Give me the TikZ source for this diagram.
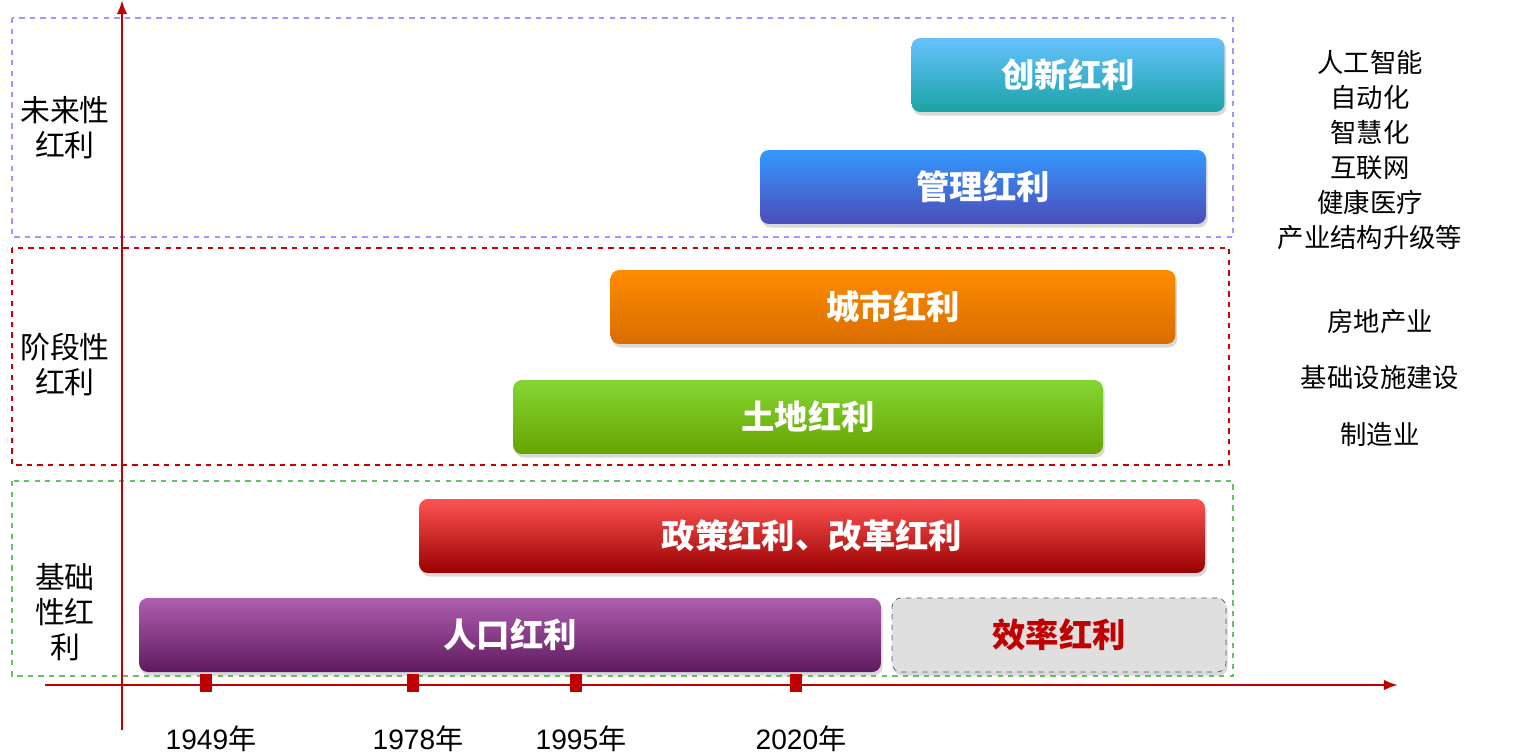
\documentclass[tikz,border=0pt]{standalone}
\usepackage{fontspec}
\setmainfont{Liberation Sans}
\newfontfamily\cjk{Noto Sans CJK SC}
\usetikzlibrary{positioning,arrows.meta,shadows}
\definecolor{axisred}{HTML}{C00000}
\definecolor{darkred}{HTML}{C00000}

\begin{document}
\begin{tikzpicture}[x=0.02cm,y=-0.02cm,
bar/.style={rounded corners=5pt, minimum height=1.48cm, text=white,
  font=\cjk\fontsize{19}{21}\selectfont\bfseries, drop shadow={opacity=0.3,shadow xshift=1pt,shadow yshift=-2pt}},
zone/.style={dashed, line width=1pt},
zonelabel/.style={align=center, font=\cjk\fontsize{17}{20}\selectfont},
tick/.style={fill=axisred, minimum width=0.24cm, minimum height=0.36cm, inner sep=0pt},
year/.style={font=\fontsize{16}{18}\selectfont},
side/.style={align=center, font=\cjk\fontsize{15}{20}\selectfont}
]
    \useasboundingbox (0,0) rectangle (1522,754);

    %Zones
    \draw[zone, draw=blue!40] (12,18) rectangle (1233,237);
    \draw[zone, draw=red!80!black] (12,248) rectangle (1229,465);
    \draw[zone, draw=green!60!black!60] (12,481) rectangle (1233,676);

    \node[zonelabel] (z1) at (65,128) {未来性\\红利};
    \node[zonelabel] (z2) at (65,365) {阶段性\\红利};
    \node[zonelabel] (z3) at (65,612) {基础\\性红\\利};

    %Bars
    \node[bar, minimum width=6.26cm, top color=cyan!60!blue!60, bottom color=cyan!60!black!90] (b1)
        at (1068,75) {创新红利};
    \node[bar, minimum width=8.92cm, top color=blue!50!cyan!80, bottom color=blue!60!black!70] (b2)
        at (983,187) {管理红利};
    \node[bar, minimum width=11.3cm, top color=orange!90!yellow, bottom color=orange!85!black] (b3)
        at (893,307) {城市红利};
    \node[bar, minimum width=11.8cm, top color=green!50!yellow!80!black!80, bottom color=green!40!black!60!yellow] (b4)
        at (808,417) {土地红利};
    \node[bar, minimum width=15.72cm, top color=red!75!white!90, bottom color=red!60!black] (b5)
        at (812,536) {政策红利、改革红利};
    \node[bar, minimum width=14.84cm, top color=violet!70!white!90, bottom color=violet!60!black!90] (b6)
        at (510,635) {人口红利};
    \node[bar, minimum width=6.68cm, fill=gray!25, draw=gray!70!black, dashed, text=darkred] (b7)
        at (1059,635) {效率红利};

    %Axes
    \draw[axisred, line width=1.5pt, -{Latex[length=8pt]}] (122,730) -- (122,0) coordinate (ytop);
    \draw[axisred, line width=1.5pt, -{Latex[length=8pt]}] (45,685) -- (1398,685) coordinate (xend);

    \foreach \x/\yr in {206/1949, 413/1978, 576/1995, 796/2020} {
        \node[tick] (t\yr) at (\x,683) {};
        \node[year, below=0.55cm of t\yr, xshift=0.1cm] (l\yr) {\yr{\cjk 年}};
    }

    %Side notes
    \node[side] (s1) at (1370,150) {人工智能\\自动化\\智慧化\\互联网\\健康医疗\\产业结构升级等};
    \node[side] (s2) at (1380,322) {房地产业};
    \node[side] (s3) at (1380,378) {基础设施建设};
    \node[side] (s4) at (1380,434) {制造业};
\end{tikzpicture}
\end{document}
